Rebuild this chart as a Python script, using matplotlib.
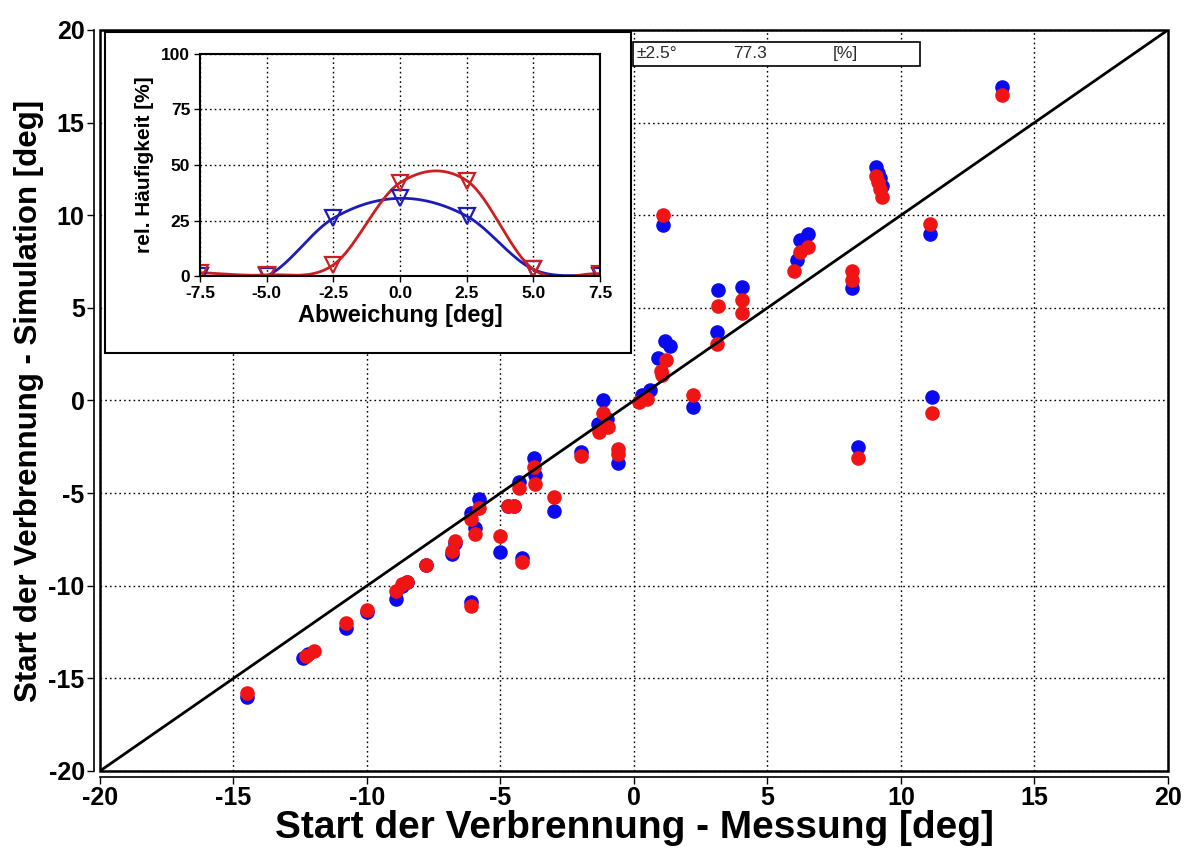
import numpy as np
import matplotlib.pyplot as plt
from matplotlib.patches import Rectangle

# Start der Verbrennung: Messung (x) vs. Simulation (y), zwei Modellvarianten
blue_x = [-14.5, -12.4, -12.2, -10.8, -10.0, -8.9, -8.7, -8.5, -7.8, -6.8,
          -6.7, -6.1, -6.1, -5.95, -5.8, -5.0, -4.7, -4.5, -4.2, -4.3,
          -3.75, -3.7, -3.0, -2.0, -1.15, -1.35, -1.0, -0.6, 0.3, 0.6,
          2.2, 1.08, 3.15, 4.05, 3.1, 1.15, 1.35, 0.9, 6.1, 6.2,
          6.5, 8.15, 9.05, 9.15, 9.2, 9.3, 11.1, 11.15, 13.8, 8.4]
blue_y = [-16.0, -13.9, -13.7, -12.3, -11.4, -10.7, -10.0, -9.8, -8.9, -8.3,
          -7.7, -10.9, -6.1, -6.9, -5.3, -8.2, -5.7, -5.7, -8.5, -4.4,
          -3.1, -4.0, -5.95, -2.8, 0.05, -1.25, -1.0, -3.4, 0.3, 0.55,
          -0.35, 9.45, 5.95, 6.15, 3.7, 3.2, 2.95, 2.3, 7.6, 8.65,
          9.0, 6.05, 12.6, 12.3, 12.0, 11.6, 9.0, 0.2, 16.9, -2.5]

red_x = [-14.5, -12.3, -12.0, -10.8, -10.0, -8.9, -8.7, -8.5, -7.8, -6.8,
         -6.7, -6.1, -6.1, -5.95, -5.8, -5.0, -4.7, -4.5, -4.2, -4.3,
         -3.75, -3.7, -3.0, -2.0, -1.15, -1.3, -0.97, -0.6, -0.6, 0.2,
         0.5, 2.2, 1.08, 3.15, 4.05, 4.05, 3.1, 1.2, 1.0, 1.05,
         6.0, 6.2, 6.5, 8.15, 8.15, 9.05, 9.15, 9.2, 9.3, 11.1,
         11.15, 13.8, 8.4]
red_y = [-15.8, -13.8, -13.5, -12.0, -11.3, -10.3, -9.9, -9.8, -8.9, -8.1,
         -7.6, -11.1, -6.4, -7.2, -5.8, -7.3, -5.7, -5.7, -8.7, -4.75,
         -3.6, -4.5, -5.2, -3.0, -0.7, -1.7, -1.45, -2.6, -2.9, -0.1,
         0.1, 0.3, 10.0, 5.1, 5.4, 4.7, 3.05, 2.2, 1.6, 1.35,
         7.0, 8.0, 8.3, 7.0, 6.5, 12.1, 11.8, 11.4, 11.0, 9.55,
         -0.65, 16.5, -3.1]

# relative Haeufigkeit der Abweichung
dev_x = [-7.5, -5.0, -2.5, 0.0, 2.5, 5.0, 7.5]
blue_freq = [0, 0, 26, 35, 27, 3, 0]
red_freq = [1.5, 0.5, 5, 42, 43, 3, 1]

stat_label = '±2.5°'
stat_value = '77.3'
stat_unit = '[%]'


def smooth(x, y, n=40):
    # Catmull-Rom style cubic hermite through the given points
    x = np.asarray(x, float)
    y = np.asarray(y, float)
    m = np.gradient(y, x)
    xs, ys = [], []
    for i in range(len(x) - 1):
        h = x[i + 1] - x[i]
        t = np.linspace(0, 1, n)
        h00 = 2 * t**3 - 3 * t**2 + 1
        h10 = t**3 - 2 * t**2 + t
        h01 = -2 * t**3 + 3 * t**2
        h11 = t**3 - t**2
        xs.append(x[i] + t * h)
        ys.append(h00 * y[i] + h10 * h * m[i] + h01 * y[i + 1] + h11 * h * m[i + 1])
    return np.concatenate(xs), np.concatenate(ys)


plt.rcParams['font.family'] = ['Liberation Sans', 'DejaVu Sans']
plt.rcParams['font.weight'] = 'bold'
plt.rcParams['axes.unicode_minus'] = False

fig = plt.figure(figsize=(11.86, 8.49), dpi=100)
ax = fig.add_axes([0.0843, 0.0919, 0.9005, 0.8728])

ax.plot(blue_x, blue_y, 'o', color='#0a0af0', markersize=10.5, markeredgewidth=0, zorder=3)
ax.plot(red_x, red_y, 'o', color='#f01414', markersize=10.5, markeredgewidth=0, zorder=4)
ax.plot([-20, 20], [-20, 20], color='black', lw=2, zorder=5)

ax.set_xlim(-20, 20)
ax.set_ylim(-20, 20)
ax.set_xticks(np.arange(-20, 21, 5))
ax.set_yticks(np.arange(-20, 21, 5))
ax.grid(True, color='black', linestyle=(0, (1.2, 2.2)), linewidth=1)
ax.set_axisbelow(True)
for s in ['top', 'right']:
    ax.spines[s].set_visible(False)
for s in ['left', 'bottom']:
    ax.spines[s].set_position(('outward', 4))
    ax.spines[s].set_linewidth(1.2)
ax.add_patch(Rectangle((0, 0), 1, 1, transform=ax.transAxes, fill=False,
                       lw=1.8, edgecolor='black', zorder=6, clip_on=False))
ax.tick_params(direction='out', length=5, width=1, labelsize=18, pad=2)
for lab in ax.get_xticklabels() + ax.get_yticklabels():
    lab.set_fontweight('bold')
ax.set_xlabel('Start der Verbrennung - Messung [deg]', fontsize=28, fontweight='bold', labelpad=0)
ax.set_ylabel('Start der Verbrennung - Simulation [deg]', fontsize=22.5, fontweight='bold', labelpad=3)

# Rahmen fuer das Inset
fig.patches.append(Rectangle((0.0885, 0.5842), 0.4435, 0.378, transform=fig.transFigure,
                             facecolor='white', edgecolor='black', lw=1.5, zorder=10))

# Statistik-Box
fig.patches.append(Rectangle((0.5337, 0.9223), 0.2420, 0.0283, transform=fig.transFigure,
                             facecolor='white', edgecolor='black', lw=1.2, zorder=10))
fig.text(0.5370, 0.9365, stat_label, fontsize=12.5, fontweight='normal', color='#2a2a2a',
         va='center', ha='left', zorder=11)
fig.text(0.6180, 0.9365, stat_value, fontsize=12.5, fontweight='normal', color='#2a2a2a',
         va='center', ha='left', zorder=11)
fig.text(0.7020, 0.9365, stat_unit, fontsize=12.5, fontweight='normal', color='#2a2a2a',
         va='center', ha='left', zorder=11)

ins = fig.add_axes([0.1686, 0.6749, 0.3373, 0.2615], zorder=20)
bx, by = smooth(dev_x, blue_freq)
rx, ry = smooth(dev_x, red_freq)
ins.plot(bx, by, color='#1c1cb8', lw=2)
ins.plot(rx, ry, color='#cc2020', lw=2)
ins.plot(dev_x, blue_freq, 'v', color='#1c1cb8', mfc='none', markersize=11, mew=1.6, ls='none')
ins.plot(dev_x, red_freq, 'v', color='#cc2020', mfc='none', markersize=11, mew=1.6, ls='none')
ins.set_xlim(-7.5, 7.5)
ins.set_ylim(0, 100)
ins.set_xticks(dev_x)
ins.set_xticklabels(['%.1f' % v for v in dev_x])
ins.set_yticks([0, 25, 50, 75, 100])
ins.grid(True, color='black', linestyle=(0, (1.2, 2.2)), linewidth=1)
ins.set_axisbelow(True)
for s in ins.spines.values():
    s.set_linewidth(1.5)
ins.tick_params(direction='out', length=4, width=1, labelsize=12.5, pad=3)
for lab in ins.get_xticklabels() + ins.get_yticklabels():
    lab.set_fontweight('bold')
ins.set_xlabel('Abweichung [deg]', fontsize=17, fontweight='bold', labelpad=2)
ins.set_ylabel('rel. Häufigkeit [%]', fontsize=15, fontweight='bold', labelpad=5)

fig.savefig('out.png', dpi=100)
